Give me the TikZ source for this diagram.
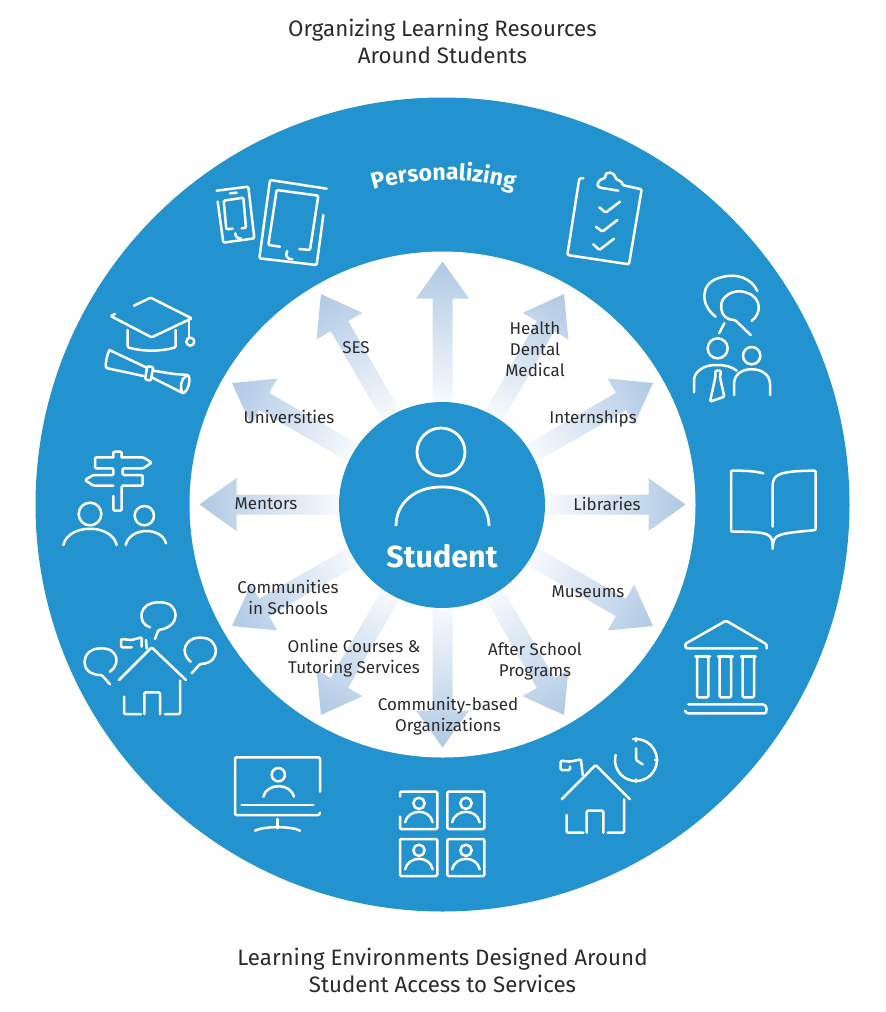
\documentclass[tikz,border=0pt]{standalone}
\usepackage{fontspec}
\setmainfont{Fira Sans}
\usetikzlibrary{decorations.text}
\definecolor{ringblue}{HTML}{2293CF}
\definecolor{arrowdark}{HTML}{B0C9E4}
\definecolor{arrowlight}{HTML}{F7FAFD}
\definecolor{inktext}{HTML}{2B2A2C}
\tikzset{
  x=1pt,y=-1pt,
  icon/.style={draw=white,line width=2.5pt,line cap=round,line join=round,rounded corners=1.2pt},
  lab/.style={text=inktext,font=\fontsize{17}{21}\selectfont,align=center,inner sep=0pt},
  ttl/.style={text=inktext,font=\fontsize{22.3}{27}\selectfont,align=center,inner sep=0pt},
  zm/.style={x=0.33333pt,y=-0.33333pt},
}
\begin{document}
\begin{tikzpicture}
\useasboundingbox (0,0) rectangle (886,1012);
% rings
\node[circle,fill=ringblue,minimum size=814pt,inner sep=0pt] (ring) at (442.5,504.5) {};
\node[circle,fill=white,minimum size=506pt,inner sep=0pt] (hole) at (442.5,504.5) {};
% arrows
\foreach \a in {0,30,...,330}{
  \shade[transform canvas={shift={(442.5,504.5)},rotate=\a},left color=arrowlight,right color=arrowdark]
    (103,-10) -- (206,-10) -- (206,-26.5) -- (243,0) -- (206,26.5) -- (206,10) -- (103,10) -- cycle;
}
\node[circle,fill=ringblue,minimum size=206pt,inner sep=0pt] (student) at (442,505) {};
% titles
\node[ttl] (t1) at (442.5,41.5) {Organizing Learning Resources\\Around Students};
\node[ttl] (t2) at (442.5,970) {Learning Environments Designed Around\\Student Access to Services};
% Personalizing
\path[decorate,decoration={text along path,text align=center,
  text={|\fontsize{23}{23}\selectfont\bfseries\color{white}|Personalizing}}]
  (443.5,442) ++(-112:262) arc[start angle=-112,end angle=-68,radius=262];
% labels
\node[lab] (l1) at (535,349) {Health\\Dental\\Medical};
\node[lab] (l2) at (356,348) {SES};
\node[lab] (l3) at (289,417) {Universities};
\node[lab] (l4) at (593,418.5) {Internships};
\node[lab] (l5) at (266,504) {Mentors};
\node[lab] (l6) at (607,504) {Libraries};
\node[lab] (l7) at (288,597) {Communities\\in Schools};
\node[lab] (l8) at (588,592) {Museums};
\node[lab] (l9) at (354,658.5) {Online Courses \&\\Tutoring Services};
\node[lab] (l10) at (535,661) {After School\\Programs};
\node[lab] (l11) at (448,716) {Community-based\\Organizations};
\node[text=white,font=\fontsize{30.5}{30}\selectfont\bfseries,inner sep=0pt] (l12) at (442,556) {Student};
% student icon
\draw[icon,line width=2.8pt] (441,452) circle[radius=24];
\draw[icon,line width=2.8pt,line cap=butt] (396,526) .. controls (396,503) and (415,487) .. (442,487) .. controls (469,487) and (489,503) .. (489,526);

% --- upper left icons
\begin{scope}[shift={(60,130)},zm]
 % phone
 \draw[icon] (470,182) -- (565,170) -- (583,325) -- (490,338) -- (473,215);
 \draw[icon] (510,190) -- (530,188);
 \draw[icon] (545,295) -- (558,293) -- (550,203) -- (491,212) -- (499,298) -- (518,296);
 \draw[icon] (526,310) .. controls (526,320) and (532,326) .. (542,324);
 % tablet
 \draw[icon] (800,176) -- (630,150) -- (598,385) -- (770,405) -- (790,255);
 \draw[icon] (660,350) -- (625,345) -- (650,180) -- (775,197) -- (750,360) -- (718,357);
 \draw[icon] (682,363) .. controls (674,375) and (680,388) .. (697,388);
 % cap
 \draw[icon,line join=miter] (222,527) -- (272,503) -- (395,565) -- (275,622) -- (152,558) -- (165,552);
 \draw[icon] (203,600) -- (203,652) .. controls (250,665) and (300,665) .. (347,652) -- (347,600);
 \draw[icon] (387,570) -- (387,622);
 \draw[icon] (391,635) circle[radius=12];
 % scroll
 \draw[icon] (148,660) .. controls (140,680) and (136,700) .. (138,714) -- (250,738);
 \draw[icon] (148,660) -- (258,712);
 \draw[icon] (262,708) -- (255,748) -- (272,752) -- (280,712) -- cycle;
 \draw[icon] (280,722) -- (342,732) -- (385,735) .. controls (392,750) and (385,780) .. (370,790) -- (275,742);
 \draw[icon] (368,790) .. controls (358,775) and (362,745) .. (380,737);
\end{scope}

% --- upper right icons
\begin{scope}[shift={(540,150)},zm]
 % clipboard
 \draw[icon] (130,85) -- (118,85) -- (82,315) -- (267,343) -- (305,118) -- (247,105) .. controls (247,95) and (235,90) .. (228,88) .. controls (225,65) and (195,60) .. (196,85) .. controls (180,85) and (165,105) .. (180,113) -- (235,122);
 \draw[icon] (178,172) -- (197,188) -- (240,155);
 \draw[icon] (168,230) -- (187,245) -- (232,210);
 \draw[icon] (160,283) -- (178,300) -- (222,266);
 % consult
 \draw[icon] (527,500) .. controls (480,465) and (480,400) .. (540,383) .. controls (590,368) and (635,385) .. (652,423);
 \draw[icon] (635,513) .. controls (665,490) and (665,445) .. (620,428) .. controls (580,415) and (540,440) .. (544,475) .. controls (546,495) and (560,510) .. (585,510) -- (632,555);
 \draw[icon] (553,520) -- (537,550);
 \draw[icon] (533,595) circle[radius=30];
 \draw[icon] (462,727) -- (462,690) .. controls (465,665) and (490,645) .. (530,645) .. controls (555,645) and (575,650) .. (590,662);
 \draw[icon] (635,617) circle[radius=26];
 \draw[icon] (582,735) -- (582,705) .. controls (582,675) and (605,658) .. (635,658) .. controls (665,658) and (690,675) .. (690,705) -- (690,735);
 \draw[icon] (526,662) -- (543,662) -- (540,682) -- (553,740) -- (510,755) -- (526,682) -- cycle;
\end{scope}

% --- left icons
\begin{scope}[shift={(50,440)},zm]
 % signpost
 \draw[icon] (190,52) -- (190,35) -- (215,35) -- (215,52);
 \draw[icon] (190,52) -- (135,52) -- (135,85) -- (190,85) -- (190,105) -- (130,105) -- (105,120) -- (130,137) -- (190,137);
 \draw[icon] (215,52) -- (280,52) -- (305,68) -- (280,85) -- (218,85) -- (218,105) -- (278,105) -- (278,137) -- (215,137) -- (215,212) -- (190,212) -- (190,168);
 \draw[icon] (120,222) circle[radius=34];
 \draw[icon] (40,315) .. controls (55,250) and (185,250) .. (200,315);
 \draw[icon] (283,227) circle[radius=29];
 \draw[icon] (227,315) .. controls (240,260) and (335,260) .. (348,310);
 % house
 \draw[icon] (315,597) -- (325,570) .. controls (395,560) and (390,487) .. (328,487) .. controls (265,487) and (260,550) .. (300,562);
 \draw[icon] (180,695) .. controls (215,670) and (200,625) .. (155,625) .. controls (90,625) and (85,705) .. (155,705) -- (180,733);
 \draw[icon] (422,665) .. controls (385,635) and (410,593) .. (450,593) .. controls (510,593) and (515,670) .. (450,672) -- (425,700);
 \draw[icon] (207,720) -- (305,622) -- (408,720);
 \draw[icon] (290,625) -- (288,600);
 \draw[icon] (275,620) -- (275,592) -- (245,600) -- (213,597) -- (213,622) -- (245,622);
 \draw[icon] (390,722) -- (390,822) -- (345,822);
 \draw[icon] (273,822) -- (222,822) -- (222,770);
 \draw[icon] (283,822) -- (283,757) -- (330,757) -- (330,822);
\end{scope}

% --- bottom icons
\begin{scope}[shift={(220,740)},zm]
 % monitor
 \draw[icon] (300,155) -- (300,52) -- (45,52) -- (45,225) -- (298,225) -- (300,218);
 \draw[icon] (65,195) -- (280,195);
 \draw[icon] (175,104) circle[radius=20];
 \draw[icon] (130,170) .. controls (140,128) and (212,128) .. (222,170);
 \draw[icon] (172,237) -- (172,265);
 \draw[icon] (105,272) .. controls (130,258) and (215,258) .. (240,272);
 % tiles
 \draw[icon] (540,170) -- (540,155) -- (652,155) -- (652,267) -- (540,267) -- (540,230);
 \draw[icon] (682,155) rectangle (793,267);
 \draw[icon] (540,297) rectangle (652,408);
 \draw[icon] (682,297) rectangle (793,408);
 \foreach \dx/\dy in {0/0,141/0,0/141,141/141}{
  \draw[icon] (597+\dx,190+\dy) circle[radius=17];
  \draw[icon] (555+\dx,247+\dy) .. controls (565+\dx,205+\dy) and (630+\dx,205+\dy) .. (638+\dx,247+\dy);
 }
 % home with clock
 \draw[icon] (1025,178) -- (1127,75) -- (1230,178);
 \draw[icon] (1088,105) -- (1083,58) -- (1050,65) -- (1022,62) -- (1022,90) -- (1050,90) -- (1050,80);
 \draw[icon] (1212,178) -- (1212,278) -- (1163,278);
 \draw[icon] (1090,278) -- (1040,278) -- (1040,225);
 \draw[icon] (1100,278) -- (1100,212) -- (1150,212) -- (1150,278);
 \draw[icon] (1248,25) -- (1248,60) -- (1268,73);
 \draw[icon] (1248,60) ++(194:63) arc[start angle=194,end angle=-98,radius=63];
 \draw[icon] (1248,-6) -- (1248,4);
 \draw[icon] (1248,118) -- (1248,126);
 \draw[icon] (1305,60) -- (1313,60);
\end{scope}

% --- right icons
\begin{scope}[shift={(670,450)},zm]
 % book
 \draw[icon] (280,70) .. controls (250,62) and (220,62) .. (183,62) -- (183,245) .. controls (230,245) and (285,245) .. (300,260) .. controls (307,268) and (308,285) .. (308,300) .. controls (308,285) and (310,268) .. (320,260) .. controls (340,248) and (390,245) .. (437,240) -- (437,62) .. controls (390,62) and (345,65) .. (325,75) .. controls (312,82) and (308,95) .. (308,110) -- (308,230);
 % museum
 \draw[icon] (290,595) -- (290,583) -- (168,512) -- (45,582) -- (48,595) -- (262,595);
 \foreach \cx in {98,166,235}{
  \draw[icon] (\cx-22,620) -- (\cx+22,620);
  \draw[icon] (\cx-17,622) -- (\cx-17,742) -- (\cx+17,742) -- (\cx+17,622);
 }
 \draw[icon] (55,763) -- (282,763) -- (290,772) -- (288,790) -- (50,790) -- (45,782);
\end{scope}
\end{tikzpicture}
\end{document}
